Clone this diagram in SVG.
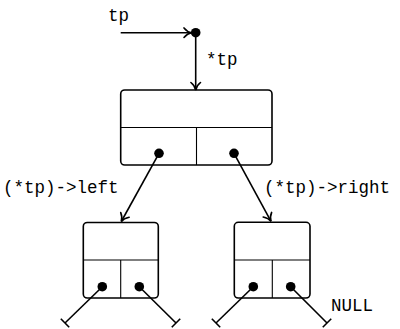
<svg xmlns="http://www.w3.org/2000/svg" width="400" height="329" viewBox="0 0 400 329">
<defs>
<style>
.box{fill:#fff;stroke:#000;stroke-width:1.6}
.div{stroke:#000;stroke-width:1.1;fill:none}
.dot{fill:#000}
.con{stroke:#000;stroke-width:1.6;fill:none}
.lbl{font-family:"Liberation Mono","DejaVu Sans Mono",monospace;font-size:17.5px;fill:#000}
</style>
<marker id="arr" markerUnits="userSpaceOnUse" viewBox="-10 -7 12 14" markerWidth="12" markerHeight="14" refX="0" refY="0" orient="auto">
<path d="M-7.5,-4.8 C-5,-1.8 -2.5,-0.4 0,0 C-2.5,0.4 -5,1.8 -7.5,4.8" fill="none" stroke="#000" stroke-width="1.6" stroke-linecap="round"/>
</marker>
<marker id="tee" markerUnits="userSpaceOnUse" viewBox="-2 -8 4 16" markerWidth="4" markerHeight="16" refX="0" refY="0" orient="auto">
<path d="M0,-6 L0,6" stroke="#000" stroke-width="1.6"/>
</marker>
</defs>

<g id="root">
<rect class="box" x="120.7" y="90" width="151.3" height="75" rx="4"/>
<line class="div" x1="120.7" y1="127.5" x2="272" y2="127.5"/>
<line class="div" x1="196.5" y1="127.5" x2="196.5" y2="165"/>
</g>

<g id="left-child">
<rect class="box" x="83.3" y="222.5" width="75" height="75.5" rx="4"/>
<line class="div" x1="83.3" y1="260" x2="158.3" y2="260"/>
<line class="div" x1="120.7" y1="260" x2="120.7" y2="298"/>
</g>

<g id="right-child">
<rect class="box" x="234.3" y="222.3" width="75.7" height="75.7" rx="4"/>
<line class="div" x1="234.3" y1="260" x2="310" y2="260"/>
<line class="div" x1="272.3" y1="260" x2="272.3" y2="298"/>
</g>

<g id="connectors">
<line class="con" x1="120.7" y1="32.7" x2="191.5" y2="32.7" marker-end="url(#arr)"/>
<line class="con" x1="195.7" y1="33" x2="195.7" y2="90" marker-end="url(#arr)"/>
<line class="con" x1="159" y1="153.3" x2="121.3" y2="221.5" marker-end="url(#arr)"/>
<line class="con" x1="234" y1="153.3" x2="271" y2="221.3" marker-end="url(#arr)"/>
<line class="con" x1="102.3" y1="286.7" x2="65" y2="323" marker-end="url(#tee)"/>
<line class="con" x1="139.3" y1="286.7" x2="176" y2="323" marker-end="url(#tee)"/>
<line class="con" x1="253.3" y1="286.7" x2="216" y2="323" marker-end="url(#tee)"/>
<line class="con" x1="290.7" y1="286.7" x2="327" y2="323" marker-end="url(#tee)"/>
</g>

<g id="pointer-dots">
<circle class="dot" cx="195.7" cy="32.7" r="4.8"/>
<circle class="dot" cx="159" cy="153.3" r="4.8"/>
<circle class="dot" cx="234" cy="153.3" r="4.8"/>
<circle class="dot" cx="102.3" cy="286.7" r="4.8"/>
<circle class="dot" cx="139.3" cy="286.7" r="4.8"/>
<circle class="dot" cx="253.3" cy="286.7" r="4.8"/>
<circle class="dot" cx="290.7" cy="286.7" r="4.8"/>
</g>

<g id="labels">
<text class="lbl" x="108" y="21">tp</text>
<text class="lbl" x="206" y="64.5">*tp</text>
<text class="lbl" x="3" y="193">(*tp)-&gt;left</text>
<text class="lbl" x="264" y="193">(*tp)-&gt;right</text>
<text class="lbl" x="331" y="311">NULL</text>
</g>
</svg>
